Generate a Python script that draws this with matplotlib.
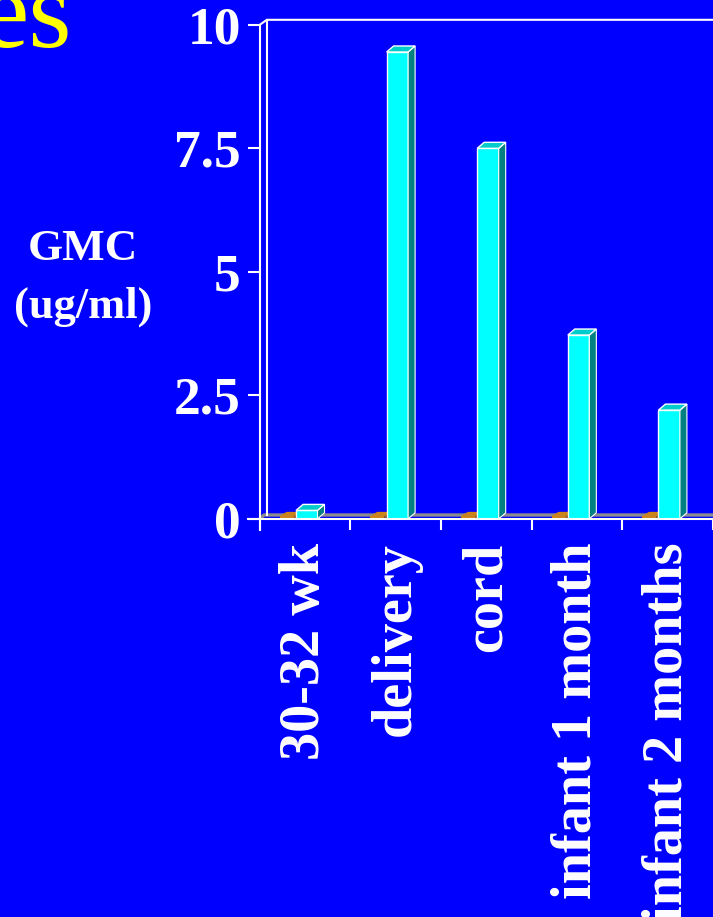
import matplotlib
matplotlib.use("Agg")
import matplotlib.pyplot as plt

# Data
categories = ["30-32 wk", "delivery", "cord", "infant 1 month", "infant 2 months"]
vaccine = [0.17, 9.45, 7.5, 3.72, 2.2]
placebo = [0.06, 0.06, 0.06, 0.06, 0.06]
y_ticks = [0, 2.5, 5, 7.5, 10]
y_tick_labels = ["0", "2.5", "5", "7.5", "10"]

BG = "#0000FF"
SERIF = ["Liberation Serif", "DejaVu Serif"]

fig = plt.figure(figsize=(7.13, 9.17), dpi=100, facecolor=BG)

# plot area: one unit per category, 0..10 vertically (extends past right edge)
px_cat = 90.6
px_unit = 49.4
left_px, zero_px, top_px = 259.8, 518.8, 24.8
W, H = 713.0, 917.0
ncols = 6
ax = fig.add_axes([left_px / W, (H - zero_px) / H, ncols * px_cat / W, (zero_px - top_px) / H])
ax.set_facecolor(BG)
ax.set_xlim(0, ncols)
ax.set_ylim(0, 10)
for s in ax.spines.values():
    s.set_visible(False)

# depth of the 3-D look, in data units
dx = 7 / px_cat
dy = 6 / px_unit
floor_dy = 3.8 / px_unit

LW = 1.5

# floor back edge (grey) and back wall
ax.plot([0, dx * 0.6, ncols], [0, floor_dy, floor_dy], color="#8C8C8C", lw=2.4,
        zorder=1, clip_on=False, solid_capstyle="butt")
ax.plot([dx, dx], [floor_dy, 10 + 5 / px_unit], color="white", lw=LW, zorder=1, clip_on=False)
ax.plot([0, dx, ncols], [10, 10 + 5 / px_unit, 10 + 5 / px_unit], color="white", lw=LW,
        zorder=1, clip_on=False)


def bar3d(x0, w, h, face, top, side, edge="white", depth_y=dy):
    ax.bar(x0, h, width=w, align="edge", color=face, edgecolor=edge,
           linewidth=1.0, zorder=3)
    ax.fill([x0 + w, x0 + w + dx, x0 + w + dx, x0 + w],
            [0, depth_y, h + depth_y, h], color=side, edgecolor=edge, linewidth=0.8, zorder=3)
    ax.fill([x0, x0 + w, x0 + w + dx, x0 + dx],
            [h, h, h + depth_y, h + depth_y], color=top, edgecolor=edge, linewidth=1.0, zorder=3)


for i, (p, v) in enumerate(zip(placebo, vaccine)):
    bar3d(i + 0.22, 0.155, p, "#CC8418", "#CC8418", "#9A6410", edge="none",
          depth_y=4 / px_unit)
    bar3d(i + 0.40, 0.237, v, "#00FFFF", "#00CCCC", "#008080")

# floor front edge and front vertical axis
ax.plot([-12 / px_cat, ncols], [0, 0], color="white", lw=LW, zorder=4, clip_on=False)
ax.plot([0, 0], [-11.5 / px_unit, 10], color="white", lw=LW, zorder=4, clip_on=False)

# ticks
ax.set_yticks(y_ticks)
ax.set_yticklabels(y_tick_labels)
ax.tick_params(axis="y", direction="out", length=8.6, width=LW, color="white", pad=5,
               labelcolor="white", labelsize=38.5)
for lab in ax.get_yticklabels():
    lab.set_fontfamily(SERIF)
    lab.set_fontweight("bold")

ax.set_xticks(range(len(categories) + 1))
ax.set_xticklabels([])
ax.set_xticks([i + 0.5 for i in range(len(categories))], minor=True)
ax.set_xticklabels(categories, minor=True, rotation=90)
ax.tick_params(axis="x", which="major", direction="out", length=8, width=LW, color="white")
ax.tick_params(axis="x", which="minor", length=0, pad=17, labelcolor="white", labelsize=40.5)
for lab in ax.get_xticklabels(minor=True):
    lab.set_fontfamily(SERIF)
    lab.set_fontweight("bold")

# axis title
fig.text(83 / W, 1 - 260 / H, "GMC", ha="center", va="baseline", color="white",
         fontsize=32.5, fontweight="bold", family=SERIF)
fig.text(83 / W, 1 - 318 / H, "(ug/ml)", ha="center", va="baseline", color="white",
         fontsize=32, fontweight="bold", family=SERIF)

# slide title tail
fig.text(72 / W, 1 - 47 / H, "es", ha="right", va="baseline", color="#FFFF00",
         fontsize=80, family=SERIF)

fig.savefig("out.png", dpi=100, facecolor=BG)
